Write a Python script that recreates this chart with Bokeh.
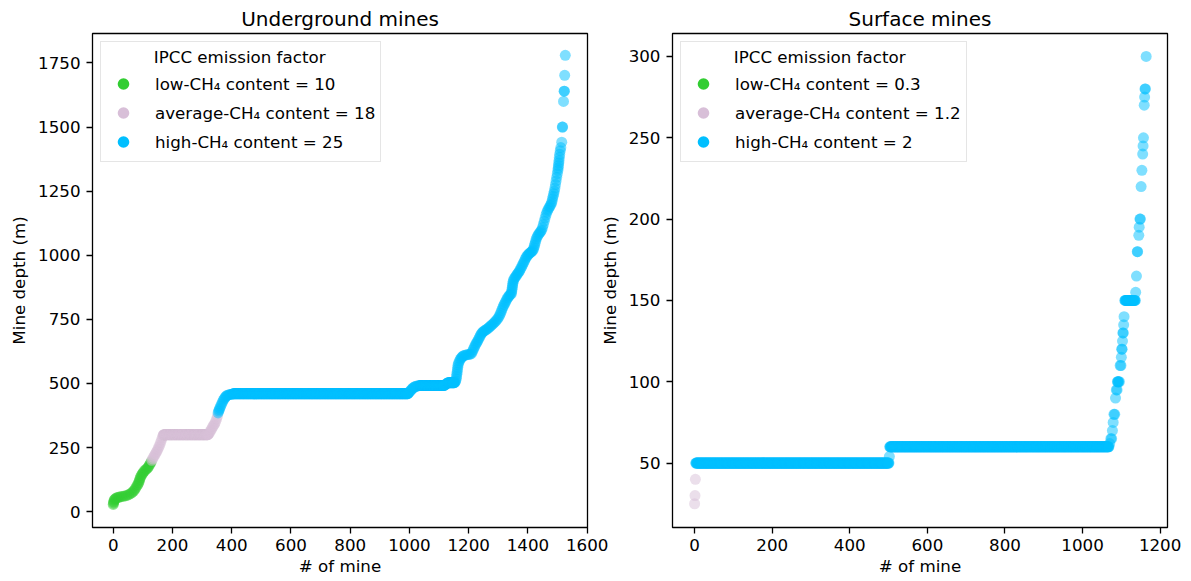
import numpy as np
from bokeh.plotting import figure
from bokeh.models import Legend, LegendItem, FixedTicker, Range1d, ColumnDataSource
from bokeh.layouts import row
from bokeh.embed import file_html
from bokeh.resources import INLINE

# ---------------- data ----------------
# Underground mines: index of mine (sorted by depth) and depth in m
ug_low_idx = [0, 1, 2, 3, 5, 8, 12, 17, 22, 28, 34, 40, 46, 52, 58, 63, 68, 72, 76, 80,
              83, 86, 88, 90, 92, 95, 98, 101, 104, 108, 112, 116, 119, 122, 125, 128]
ug_low_depth = [28, 33, 38, 44, 48, 51, 54, 56, 57, 59, 60, 61, 63, 66, 70, 74, 79, 85, 92, 100,
                106, 113, 120, 127, 134, 141, 147, 152, 157, 162, 166, 170, 175, 181, 187, 194]

ug_avg_idx = [130, 133, 136, 139, 142, 145, 148, 151, 154, 157, 160, 163, 166, 169,
              322, 325, 328, 331, 334, 337, 340, 343, 346, 349, 352]
ug_avg_depth = [200, 206, 212, 218, 224, 231, 237, 244, 252, 260, 270, 280, 290, 298,
                303, 308, 314, 320, 327, 333, 338, 344, 352, 362, 372]
ug_avg_runs = [(170, 320, 300)]          # (first index, last index, depth)

ug_high_idx = [354, 356, 358, 360, 363, 366, 369, 372, 375, 378, 381, 384, 388, 392, 396, 400, 404,
               997, 1000, 1003, 1006, 1009, 1012, 1015, 1018, 1022, 1026, 1030, 1035,
               1120, 1123, 1126, 1129,
               1154, 1156, 1158, 1159, 1160, 1161, 1162, 1163, 1164, 1166, 1169, 1172, 1175, 1178,
               1181, 1185, 1190, 1195, 1200, 1205, 1209,
               1212, 1215, 1218, 1221, 1224, 1227, 1230, 1233, 1236, 1239, 1242, 1245, 1248, 1251, 1254,
               1258, 1262, 1266, 1270, 1274, 1278,
               1282, 1286, 1290, 1294, 1298, 1302, 1305, 1308, 1311, 1314, 1317, 1320, 1323, 1326,
               1329, 1332, 1335, 1338, 1341, 1344,
               1345, 1346, 1347, 1348, 1349, 1350, 1352, 1355, 1358, 1361, 1364, 1367, 1370, 1373,
               1376, 1379, 1382, 1385, 1388, 1391, 1394,
               1397, 1400, 1403, 1406, 1409, 1412, 1415, 1418, 1420, 1422, 1424, 1426, 1428, 1431,
               1434, 1437, 1440, 1443, 1446,
               1449, 1452, 1455, 1458, 1461, 1464, 1467, 1470, 1473, 1476, 1479,
               1481, 1483, 1485, 1487, 1489, 1491, 1493, 1495, 1497, 1499, 1501, 1502, 1503, 1504,
               1505, 1506, 1507,
               1509, 1511, 1514, 1516, 1517, 1520, 1522, 1523, 1524, 1526]
ug_high_depth = [385, 392, 398, 404, 412, 420, 428, 435, 441, 446, 450, 453, 455, 456, 457, 458, 459,
                 463, 467, 471, 475, 479, 482, 485, 487, 489, 490, 491, 492,
                 494, 497, 500, 502,
                 505, 510, 518, 527, 536, 545, 554, 563, 572, 580, 588, 595, 600, 604,
                 607, 609, 611, 612, 613, 614, 616,
                 623, 631, 639, 646, 653, 659, 665, 672, 679, 686, 692, 697, 701, 704, 706,
                 709, 712, 716, 720, 724, 728,
                 732, 737, 742, 747, 753, 760, 767, 775, 784, 793, 801, 808, 815, 822,
                 829, 835, 840, 844, 847, 850,
                 858, 866, 874, 882, 890, 898, 905, 911, 916, 921, 926, 931, 936, 942,
                 949, 956, 963, 970, 977, 985, 992,
                 997, 1001, 1005, 1008, 1011, 1014, 1017, 1022, 1030, 1038, 1046, 1055, 1064, 1072,
                 1078, 1083, 1088, 1093, 1098,
                 1108, 1120, 1133, 1146, 1158, 1168, 1176, 1183, 1189, 1195, 1201,
                 1210, 1220, 1230, 1240, 1250, 1262, 1276, 1290, 1304, 1318, 1331, 1340, 1350, 1360,
                 1370, 1382, 1394,
                 1408, 1420, 1441, 1500, 1500, 1600, 1640, 1640, 1702, 1780]
ug_high_runs = [(405, 995, 460), (1036, 1118, 492), (1130, 1152, 503)]

# Surface mines
sf_low_idx, sf_low_depth = [], []
sf_avg_idx = [0, 1, 2]
sf_avg_depth = [25, 30, 40]
sf_high_idx = [502,
               1070, 1073, 1075, 1077, 1079, 1081, 1083, 1085, 1087, 1089, 1090, 1091, 1092, 1093,
               1095, 1097, 1099, 1100, 1101, 1102, 1103, 1104, 1105, 1106, 1107,
               1137, 1139, 1141, 1142, 1145, 1146, 1148, 1149, 1151, 1153, 1155, 1156, 1157, 1159,
               1160, 1161, 1162, 1164]
sf_high_depth = [54,
                 62, 65, 65, 70, 75, 80, 80, 90, 95, 95, 100, 100, 100, 100,
                 100, 110, 110, 115, 120, 120, 125, 130, 130, 135, 140,
                 155, 165, 180, 180, 190, 195, 200, 200, 220, 230, 240, 245, 250, 270,
                 275, 280, 280, 300]
sf_high_runs = [(3, 501, 50), (503, 1068, 60), (1109, 1136, 150)]

labels_ug = ["low-CH\u2084 content = 10", "average-CH\u2084 content = 18", "high-CH\u2084 content = 25"]
labels_sf = ["low-CH\u2084 content = 0.3", "average-CH\u2084 content = 1.2", "high-CH\u2084 content = 2"]
legend_title = "IPCC emission factor"
x_label = "# of mine"
y_label = "Mine depth (m)"
colors = ["#32CD32", "#D8BFD8", "#00BFFF"]

FONT = "DejaVu Sans"
TXT = "16.7px"

UG_X = (-70, 1601)
UG_Y = (-62, 1865)
SF_X = (-57, 1219)
SF_Y = (10.4, 314.1)


def combine(idx, depth, runs=()):
    x = list(idx)
    y = list(depth)
    for a, b, d in runs:
        n = b - a + 1
        x += list(range(a, b + 1))
        y += [d] * n
    order = np.argsort(x, kind="stable")
    return np.asarray(x, dtype=float)[order], np.asarray(y, dtype=float)[order]


def make_fig(title, xr, yr, xticks, yticks, width, left, right, series, labels):
    p = figure(width=width, height=581, x_range=Range1d(*xr), y_range=Range1d(*yr),
               output_backend="svg", toolbar_location=None, title=title,
               min_border_left=left, min_border_right=right,
               min_border_top=33, min_border_bottom=54)
    p.title.align = "center"
    p.title.text_font = FONT
    p.title.text_font_size = "20px"
    p.title.text_font_style = "normal"
    p.title.text_color = "#000000"
    p.title.standoff = 5
    p.grid.visible = False
    p.background_fill_color = "white"
    p.border_fill_color = "white"
    p.outline_line_color = "#000000"
    p.outline_line_width = 1.3
    p.outline_line_alpha = 1.0
    p.xaxis.ticker = FixedTicker(ticks=xticks)
    p.yaxis.ticker = FixedTicker(ticks=yticks)
    p.xaxis.axis_label = x_label
    p.yaxis.axis_label = y_label
    for ax in (p.xaxis, p.yaxis):
        ax.axis_line_color = None
        ax.major_tick_line_color = "#000000"
        ax.major_tick_line_width = 1.3
        ax.major_tick_out = 6
        ax.major_tick_in = 0
        ax.minor_tick_line_color = None
        ax.major_label_text_font = FONT
        ax.major_label_text_font_size = TXT
        ax.major_label_text_color = "#000000"
        ax.axis_label_text_font = FONT
        ax.axis_label_text_font_size = TXT
        ax.axis_label_text_font_style = "normal"
        ax.axis_label_text_color = "#000000"
    p.xaxis.major_label_standoff = 5
    p.xaxis.axis_label_standoff = 2
    p.yaxis.major_label_standoff = 6
    p.yaxis.axis_label_standoff = 6

    for (x, y), c in zip(series, colors):
        if len(x):
            src = ColumnDataSource(dict(x=x, y=y))
            p.scatter("x", "y", source=src, size=11, fill_color=c, fill_alpha=0.5, line_color=None)

    items = []
    for lab, c in zip(labels, colors):
        # legend-only renderer (a single NaN point, never drawn) so the key is fully opaque
        r = p.scatter(x=[np.nan], y=[np.nan], size=11, fill_color=c, fill_alpha=1.0, line_color=None)
        items.append(LegendItem(label=lab, renderers=[r]))
    leg = Legend(items=items, location="top_left", title="\u00a0" * 9 + legend_title,
                 margin=8, padding=5, spacing=0, glyph_width=34, glyph_height=29,
                 label_standoff=15, title_standoff=2, label_height=20,
                 label_text_font=FONT, label_text_font_size=TXT, label_text_color="#000000",
                 title_text_font=FONT, title_text_font_size=TXT, title_text_font_style="normal",
                 title_text_color="#000000",
                 border_line_color="#cccccc", border_line_width=1,
                 background_fill_color="white", background_fill_alpha=0.8)
    p.add_layout(leg)
    return p


ug_series = [combine(ug_low_idx, ug_low_depth),
             combine(ug_avg_idx, ug_avg_depth, ug_avg_runs),
             combine(ug_high_idx, ug_high_depth, ug_high_runs)]
sf_series = [combine(sf_low_idx, sf_low_depth),
             combine(sf_avg_idx, sf_avg_depth),
             combine(sf_high_idx, sf_high_depth, sf_high_runs)]

# left panel is wide enough for its last tick label; the right panel overlaps it by 17 px
p1 = make_fig("Underground mines", UG_X, UG_Y,
              list(range(0, 1601, 200)), list(range(0, 1751, 250)),
              609, 92, 22, ug_series, labels_ug)
p2 = make_fig("Surface mines", SF_X, SF_Y,
              list(range(0, 1201, 200)), list(range(50, 301, 50)),
              599, 80, 24, sf_series, labels_sf)
p2.border_fill_alpha = 0.0
p2.margin = (0, 0, 0, -17)

layout = row(p1, p2)
open("out.html", "w").write(file_html(layout, INLINE))
